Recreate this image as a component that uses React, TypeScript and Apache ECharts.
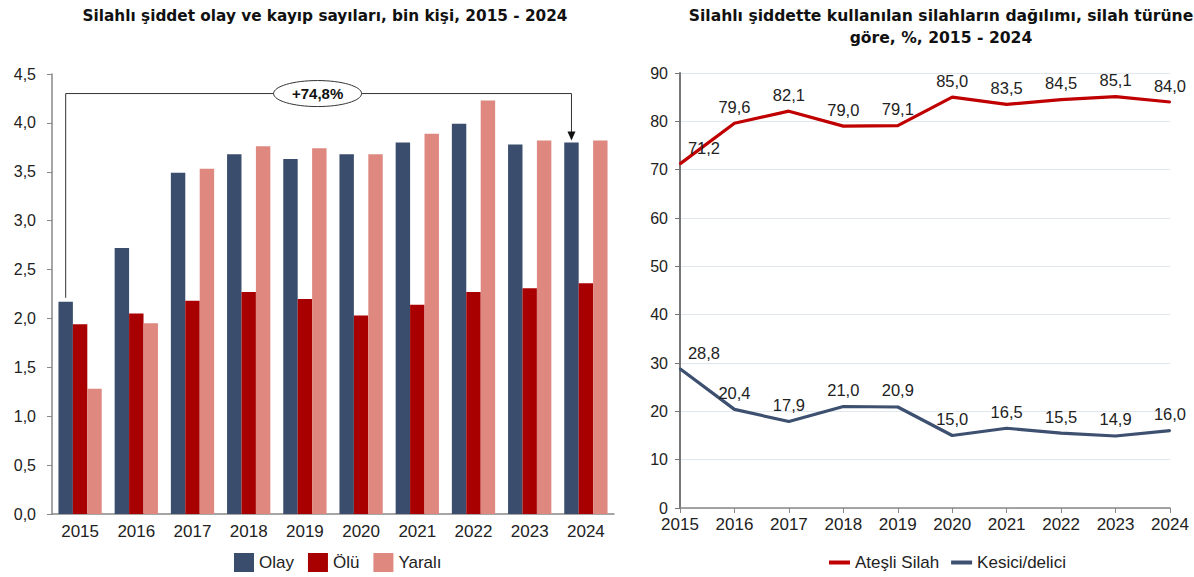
import React, { useEffect, useRef } from "react";
import * as echarts from "echarts";

const years = ["2015", "2016", "2017", "2018", "2019", "2020", "2021", "2022", "2023", "2024"];
const olay = [2.17, 2.72, 3.49, 3.68, 3.63, 3.68, 3.8, 3.99, 3.78, 3.8];
const olu = [1.94, 2.05, 2.18, 2.27, 2.2, 2.03, 2.14, 2.27, 2.31, 2.36];
const yarali = [1.28, 1.95, 3.53, 3.76, 3.74, 3.68, 3.89, 4.23, 3.82, 3.82];
const atesli = [71.2, 79.6, 82.1, 79.0, 79.1, 85.0, 83.5, 84.5, 85.1, 84.0];
const kesici = [28.8, 20.4, 17.9, 21.0, 20.9, 15.0, 16.5, 15.5, 14.9, 16.0];
const changeLabel = "+74,8%";
const bracketLevel = 4.3;

const C_OLAY = "#3a4d6c";
const C_OLU = "#a80000";
const C_YARALI = "#de8880";
const C_ATES = "#c00000";
const C_KES = "#3d5070";

const fmt1 = (v: number) => v.toFixed(1).replace(".", ",");

export default function App() {
  const ref = useRef<HTMLDivElement>(null);
  useEffect(() => {
    if (!ref.current) return;
    const chart = echarts.init(ref.current, undefined, { renderer: "svg" });
    const ff = "Liberation Sans, Arial, sans-serif";
    const axisFont = { fontFamily: ff, fontSize: 17, color: "#222" };
    const yFont = { fontFamily: ff, fontSize: 16, color: "#222" };
    const lineLabel = (arr: number[]) =>
      arr.map((v, i) => ({
        value: v,
        label: i === 0 ? { offset: [24, 1] } : {},
      }));
    chart.setOption({
      animation: false,
      backgroundColor: "#fff",
      title: [
        {
          text: "Silahlı şiddet olay ve kayıp sayıları, bin kişi, 2015 - 2024",
          left: 320,
          textAlign: "center",
          top: 3,
          textStyle: { fontFamily: "DejaVu Sans, Verdana, sans-serif", fontWeight: "bold", fontSize: 15.3, color: "#111" },
        },
        {
          text: "Silahlı şiddette kullanılan silahların dağılımı, silah türüne\ngöre, %, 2015 - 2024",
          left: 936,
          textAlign: "center",
          top: 0,
          textStyle: { fontFamily: "DejaVu Sans, Verdana, sans-serif", fontWeight: "bold", fontSize: 15.6, color: "#111", lineHeight: 22 },
        },
      ],
      legend: [
        {
          left: 229,
          top: 548,
          itemWidth: 20,
          itemHeight: 19,
          itemGap: 14,
          icon: "rect",
          textStyle: { fontFamily: ff, fontSize: 17, color: "#222" },
          data: ["Olay", "Ölü", "Yaralı"],
        },
        {
          left: 824,
          top: 549,
          itemWidth: 21,
          itemHeight: 4,
          itemGap: 12,
          icon: "rect",
          textStyle: { fontFamily: ff, fontSize: 17, color: "#222" },
          data: ["Ateşli Silah", "Kesici/delici"],
        },
      ],
      grid: [
        { left: 52, right: 580, top: 74, bottom: 63 },
        { left: 680, right: 24, top: 73, bottom: 69 },
      ],
      xAxis: [
        {
          type: "category",
          gridIndex: 0,
          data: years,
          axisLine: { lineStyle: { color: "#888", width: 1.5 } },
          axisTick: { show: false },
          axisLabel: { ...axisFont, margin: 9 },
        },
        {
          type: "category",
          gridIndex: 1,
          data: years,
          boundaryGap: false,
          axisLine: { lineStyle: { color: "#888", width: 1.5 } },
          axisTick: { show: true, length: 5, lineStyle: { color: "#888" } },
          axisLabel: { ...axisFont, margin: 8 },
        },
      ],
      yAxis: [
        {
          type: "value",
          gridIndex: 0,
          min: 0,
          max: 4.5,
          interval: 0.5,
          axisLine: { show: true, lineStyle: { color: "#888", width: 1.5 } },
          axisTick: { show: true, length: 5, lineStyle: { color: "#888" } },
          splitLine: { show: false },
          axisLabel: { ...yFont, margin: 16, formatter: (v: number) => fmt1(v) },
        },
        {
          type: "value",
          gridIndex: 1,
          min: 0,
          max: 90,
          interval: 10,
          axisLine: { show: true, lineStyle: { color: "#777", width: 2 } },
          axisTick: { show: true, length: 5, lineStyle: { color: "#777" } },
          splitLine: { show: true, lineStyle: { color: "#e1e7ef", width: 1 } },
          axisLabel: { ...yFont, margin: 12 },
        },
      ],
      series: [
        { name: "Olay", type: "bar", xAxisIndex: 0, yAxisIndex: 0, data: olay, itemStyle: { color: C_OLAY }, barGap: "0%", barCategoryGap: "23%" },
        { name: "Ölü", type: "bar", xAxisIndex: 0, yAxisIndex: 0, data: olu, itemStyle: { color: C_OLU }, barGap: "0%", barCategoryGap: "23%" },
        { name: "Yaralı", type: "bar", xAxisIndex: 0, yAxisIndex: 0, data: yarali, itemStyle: { color: C_YARALI }, barGap: "0%", barCategoryGap: "23%" },
        {
          name: "Ateşli Silah",
          type: "line",
          xAxisIndex: 1,
          yAxisIndex: 1,
          data: lineLabel(atesli),
          symbol: "circle",
          symbolSize: 2,
          lineStyle: { color: C_ATES, width: 3.2 },
          itemStyle: { color: C_ATES },
          label: { show: true, position: "top", distance: 7, fontFamily: ff, fontSize: 16.5, color: "#222", formatter: (p: any) => fmt1(p.value) },
        },
        {
          name: "Kesici/delici",
          type: "line",
          xAxisIndex: 1,
          yAxisIndex: 1,
          data: lineLabel(kesici),
          symbol: "circle",
          symbolSize: 2,
          lineStyle: { color: C_KES, width: 3.2 },
          itemStyle: { color: C_KES },
          label: { show: true, position: "top", distance: 7, fontFamily: ff, fontSize: 16.5, color: "#222", formatter: (p: any) => fmt1(p.value) },
        },
      ],
    });

    // annotation bracket computed from axes
    const p0 = chart.convertToPixel({ gridIndex: 0 }, [0, olay[0]]) as number[];
    const p1 = chart.convertToPixel({ gridIndex: 0 }, [1, olay[0]]) as number[];
    const last = years.length - 1;
    const p9 = chart.convertToPixel({ gridIndex: 0 }, [last, olay[last]]) as number[];
    const top = chart.convertToPixel({ gridIndex: 0 }, [0, bracketLevel]) as number[];
    const band = p1[0] - p0[0];
    const barW = (band * 0.77) / 3;
    const x0 = p0[0] - barW;
    const x9 = p9[0] - barW;
    const yTop = top[1];
    const cx = (x0 + x9) / 2;
    const stroke = "#333";
    chart.setOption({
      graphic: [
        {
          type: "polyline",
          shape: { points: [[x0, p0[1] - 4], [x0, yTop], [x9, yTop], [x9, p9[1] - 10]] },
          style: { stroke, lineWidth: 1, fill: "none" },
          silent: true,
        },
        {
          type: "polygon",
          shape: { points: [[x9 - 4, p9[1] - 11], [x9 + 4, p9[1] - 11], [x9, p9[1] - 2]] },
          style: { fill: "#111" },
          silent: true,
        },
        {
          type: "ellipse",
          shape: { cx: cx - 1, cy: yTop, rx: 44, ry: 13 },
          style: { fill: "#fff", stroke, lineWidth: 1 },
          silent: true,
        },
        {
          type: "text",
          x: cx - 1,
          y: yTop,
          style: {
            text: changeLabel,
            fill: "#111",
            font: "bold 15px Liberation Sans, Arial, sans-serif",
            align: "center",
            verticalAlign: "middle",
          },
          silent: true,
        },
      ],
    });
    return () => chart.dispose();
  }, []);
  return <div ref={ref} style={{ position: "fixed", left: 0, top: 0, width: 1194, height: 577 }} />;
}
